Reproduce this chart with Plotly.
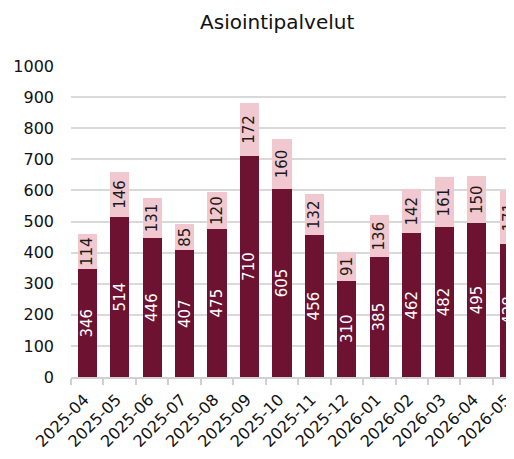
import plotly.graph_objects as go

months = ["2025-04", "2025-05", "2025-06", "2025-07", "2025-08", "2025-09", "2025-10",
          "2025-11", "2025-12", "2026-01", "2026-02", "2026-03", "2026-04", "2026-05"]
base_values = [346, 514, 446, 407, 475, 710, 605, 456, 310, 385, 462, 482, 495, 428]
top_values = [114, 146, 131, 85, 120, 172, 160, 132, 91, 136, 142, 161, 150, 171]
y_ticks = [0, 100, 200, 300, 400, 500, 600, 700, 800, 900, 1000]

FONT = "DejaVu Sans"

fig = go.Figure()
fig.add_trace(go.Bar(
    x=months, y=base_values, marker=dict(color="#6d1230", line=dict(width=0)),
    text=[str(v) for v in base_values], textposition="inside", textangle=-90,
    insidetextanchor="middle", textfont=dict(color="white", size=15, family=FONT),
    name="a",
))
fig.add_trace(go.Bar(
    x=months, y=top_values, marker=dict(color="#f2c8d0", line=dict(width=0)),
    text=[str(v) for v in top_values], textposition="inside", textangle=-90,
    insidetextanchor="middle", textfont=dict(color="#1a1a1a", size=15, family=FONT),
    name="b",
))

# The page body has an 8px default margin, so the figure is 8px smaller
fig.update_layout(
    width=506, height=451,
    barmode="stack", bargap=0.41,
    showlegend=False,
    plot_bgcolor="white", paper_bgcolor="white",
    margin=dict(l=63, r=0, t=58, b=82, autoexpand=False),
    font=dict(family=FONT, color="#222222", size=16),
    title=dict(text="Asiointipalvelut", x=0.532, xanchor="center", y=0.969, yanchor="middle",
               font=dict(size=20, family=FONT, color="#111111")),
    uniformtext=dict(minsize=15, mode="show"),
)
fig.update_xaxes(
    type="category", range=[-0.5, 13.15], automargin=False,
    tickangle=-45, tickson="boundaries", ticks="outside", ticklen=6,
    tickcolor="#d0d0d0", tickwidth=2, ticklabelshift=-3, ticklabelstandoff=5,
    showline=True, linecolor="#d0d0d0", linewidth=2,
    showgrid=False, tickfont=dict(size=16, family=FONT, color="#111111"),
)
fig.update_yaxes(
    range=[0, 1000], tickvals=y_ticks, showgrid=True, gridcolor="#d9d9d9", gridwidth=2,
    zeroline=False, showline=False, ticks="", ticklabelstandoff=16, automargin=False,
    tickfont=dict(size=16, family=FONT, color="#111111"),
)

fig.write_html("out.html")
